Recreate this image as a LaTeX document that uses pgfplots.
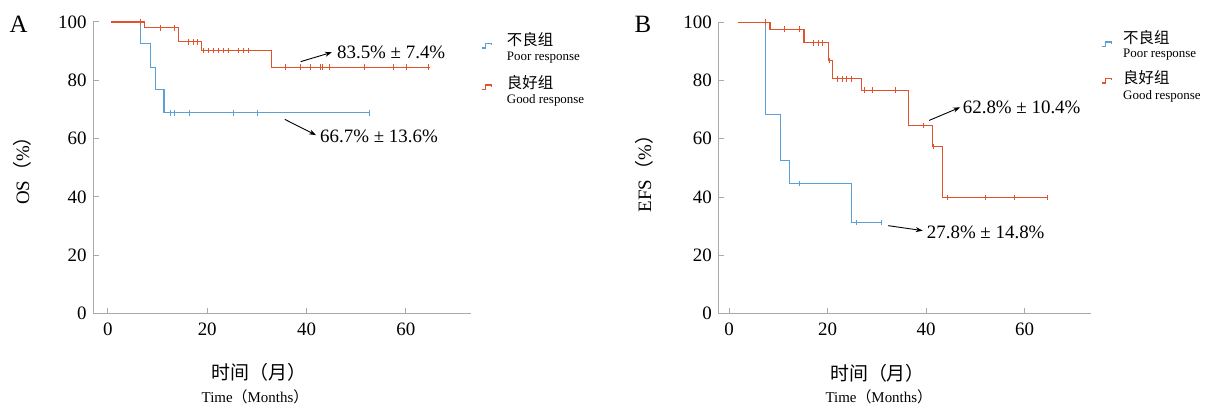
\documentclass[border=0pt]{standalone}
\usepackage{fontspec}
\setmainfont{Liberation Serif}
\newfontfamily\cjk{Noto Sans CJK SC}
\usepackage{pgfplots}
\pgfplotsset{compat=1.18}
\usetikzlibrary{arrows.meta}
\definecolor{kmblue}{RGB}{93,160,215}
\definecolor{kmred}{RGB}{226,83,45}
\definecolor{axgray}{RGB}{170,170,170}
\pgfplotsset{
  kmaxis/.style={scale only axis, axis lines*=left,
    axis line style={draw=axgray, line width=1bp},
    tick style={draw=axgray, line width=1bp}, major tick length=5.5bp, tick align=inside,
    xtick={0,20,40,60}, ytick={0,20,40,60,80,100}, ymin=0, ymax=100,
    height=291.5bp, clip=false,
    tick label style={font=\fontsize{19}{20}\selectfont},
    /pgf/number format/assume math mode=true,
    yticklabel style={xshift=-3bp}, xticklabel style={yshift=-6bp},
    anchor=south west},
  kmline/.style={const plot, line width=1.1bp, mark=none},
  kmcens/.style={only marks, mark=|, mark size=2.8bp, mark options={line width=0.9bp}}
}
\tikzset{annarrow/.style={-{Stealth[length=7bp,width=5bp]}, line width=0.9bp, black},
  anntext/.style={anchor=west, inner sep=0pt, font=\fontsize{19}{20}\selectfont}}
\begin{document}
\begin{tikzpicture}
\path[use as bounding box] (0,0) rectangle (1206bp,404bp);
% ---------------- Panel A ----------------
\begin{axis}[kmaxis, at={(93bp,90.5bp)}, width=378bp, xmin=-3, xmax=73.1]
\addplot[kmline, kmblue] coordinates {(0.7,100) (6.5,92.5) (8.5,84.5) (9.5,76.7) (11.3,68.8) (52.7,68.8)};
\addplot[kmcens, kmblue] coordinates {(12.5,68.8) (13.4,68.8) (16.4,68.8) (25.2,68.8) (30.1,68.8) (52.6,68.8)};
\addplot[kmline, kmred] coordinates {(0.7,100) (7.3,98.0) (14.3,93.2) (18.9,90.2) (33.0,84.5) (64.8,84.5)};
\addplot[kmcens, kmred] coordinates {(6.5,100) (10.5,98.0) (13.3,98.0) (16.2,93.2) (17.2,93.2) (18.1,93.2)
 (19.3,90.2) (20.3,90.2) (21.3,90.2) (22.2,90.2) (23.2,90.2) (24.3,90.2) (26.2,90.2) (27.2,90.2) (28.2,90.2)
 (35.8,84.5) (38.8,84.5) (40.8,84.5) (42.7,84.5) (43.2,84.5) (44.7,84.5) (51.6,84.5) (57.4,84.5) (60.2,84.5) (64.5,84.5)};
\draw[annarrow] (axis cs:38.8,86.4) -- (axis cs:45.1,89.6);
\node[anntext] at (axis cs:46.1,89.6) {83.5\% ± 7.4\%};
\draw[annarrow] (axis cs:35.6,66.6) -- (axis cs:41.9,61.2);
\node[anntext] at (axis cs:42.7,60.9) {66.7\% ± 13.6\%};
\end{axis}
% ---------------- Panel B ----------------
\begin{axis}[kmaxis, at={(718.3bp,90.3bp)}, width=372.4bp, xmin=-2.2, xmax=73.4]
\addplot[kmline, kmblue] coordinates {(1.7,100) (7.4,68.4) (10.4,52.5) (12.3,44.6) (24.8,31.3) (31.0,31.3)};
\addplot[kmcens, kmblue] coordinates {(14.3,44.6) (25.8,31.3) (30.9,31.3)};
\addplot[kmline, kmred] coordinates {(1.7,100) (8.3,97.6) (15.2,92.9) (20.1,86.9) (21.0,80.6) (26.9,76.7) (36.5,64.6) (41.3,57.3) (43.3,39.9) (64.8,39.9)};
\addplot[kmcens, kmred] coordinates {(7.4,100) (11.3,97.6) (14.3,97.6) (17.1,92.9) (18.1,92.9) (19.0,92.9) (20.4,86.9)
 (22.0,80.6) (22.9,80.6) (23.9,80.6) (24.8,80.6) (27.5,76.7) (29.0,76.7) (33.7,76.7) (39.4,64.6) (41.4,57.3)
 (44.4,39.9) (52.1,39.9) (57.9,39.9) (64.7,39.9)};
\draw[annarrow] (axis cs:40.6,66.3) -- (axis cs:46.9,70.8);
\node[anntext] at (axis cs:47.4,70.8) {62.8\% ± 10.4\%};
\draw[annarrow] (axis cs:32.3,30.2) -- (axis cs:39.3,28.5);
\node[anntext] at (axis cs:40.1,27.8) {27.8\% ± 14.8\%};
\end{axis}
% ---------------- labels ----------------
\node[font=\fontsize{25}{26}\selectfont, inner sep=0pt] at (18.5bp,380bp) {A};
\node[font=\fontsize{25}{26}\selectfont, inner sep=0pt] at (643bp,380bp) {B};
\node[rotate=90, inner sep=0pt, font=\fontsize{19}{20}\selectfont] at (22bp,238bp) {OS{\cjk（}\%{\cjk）}};
\node[rotate=90, inner sep=0pt, font=\fontsize{19}{20}\selectfont] at (644bp,235bp) {EFS{\cjk（}\%{\cjk）}};
\node[inner sep=0pt, font=\fontsize{19}{20}\selectfont] at (259bp,31.3bp) {\cjk 时间（月）};
\node[inner sep=0pt, font=\fontsize{15}{16}\selectfont] at (255bp,7bp) {Time{\cjk（}Months{\cjk）}};
\node[inner sep=0pt, font=\fontsize{19}{20}\selectfont] at (877.5bp,31bp) {\cjk 时间（月）};
\node[inner sep=0pt, font=\fontsize{15}{16}\selectfont] at (878.8bp,7bp) {Time{\cjk（}Months{\cjk）}};
% ---------------- legends ----------------
\draw[kmblue, line width=1.1bp] (481.5bp,356bp) -- (485.5bp,356bp) -- (485.5bp,360.5bp) -- (491.5bp,360.5bp) -- (491.5bp,358.5bp);
\node[anchor=west, inner sep=0pt, font=\fontsize{15.5}{16}\selectfont] at (506.7bp,364.3bp) {\cjk 不良组};
\node[anchor=west, inner sep=0pt, font=\fontsize{13}{14}\selectfont] at (506.7bp,346.5bp) {Poor response};
\draw[kmred, line width=1.1bp] (481.5bp,314.5bp) -- (485.5bp,314.5bp) -- (485.5bp,319bp) -- (491.5bp,319bp) -- (491.5bp,317bp);
\node[anchor=west, inner sep=0pt, font=\fontsize{15.5}{16}\selectfont] at (506.7bp,321bp) {\cjk 良好组};
\node[anchor=west, inner sep=0pt, font=\fontsize{13}{14}\selectfont] at (506.7bp,304bp) {Good response};
\draw[kmblue, line width=1.1bp] (1101.5bp,357.5bp) -- (1105.5bp,357.5bp) -- (1105.5bp,362bp) -- (1111.5bp,362bp) -- (1111.5bp,360bp);
\node[anchor=west, inner sep=0pt, font=\fontsize{15.5}{16}\selectfont] at (1123bp,366.5bp) {\cjk 不良组};
\node[anchor=west, inner sep=0pt, font=\fontsize{13}{14}\selectfont] at (1123bp,349bp) {Poor response};
\draw[kmred, line width=1.1bp] (1101.5bp,321bp) -- (1105.5bp,321bp) -- (1105.5bp,325.5bp) -- (1111.5bp,325.5bp) -- (1111.5bp,323.5bp);
\node[anchor=west, inner sep=0pt, font=\fontsize{15.5}{16}\selectfont] at (1123bp,326.5bp) {\cjk 良好组};
\node[anchor=west, inner sep=0pt, font=\fontsize{13}{14}\selectfont] at (1123bp,307.3bp) {Good response};
\end{tikzpicture}
\end{document}
